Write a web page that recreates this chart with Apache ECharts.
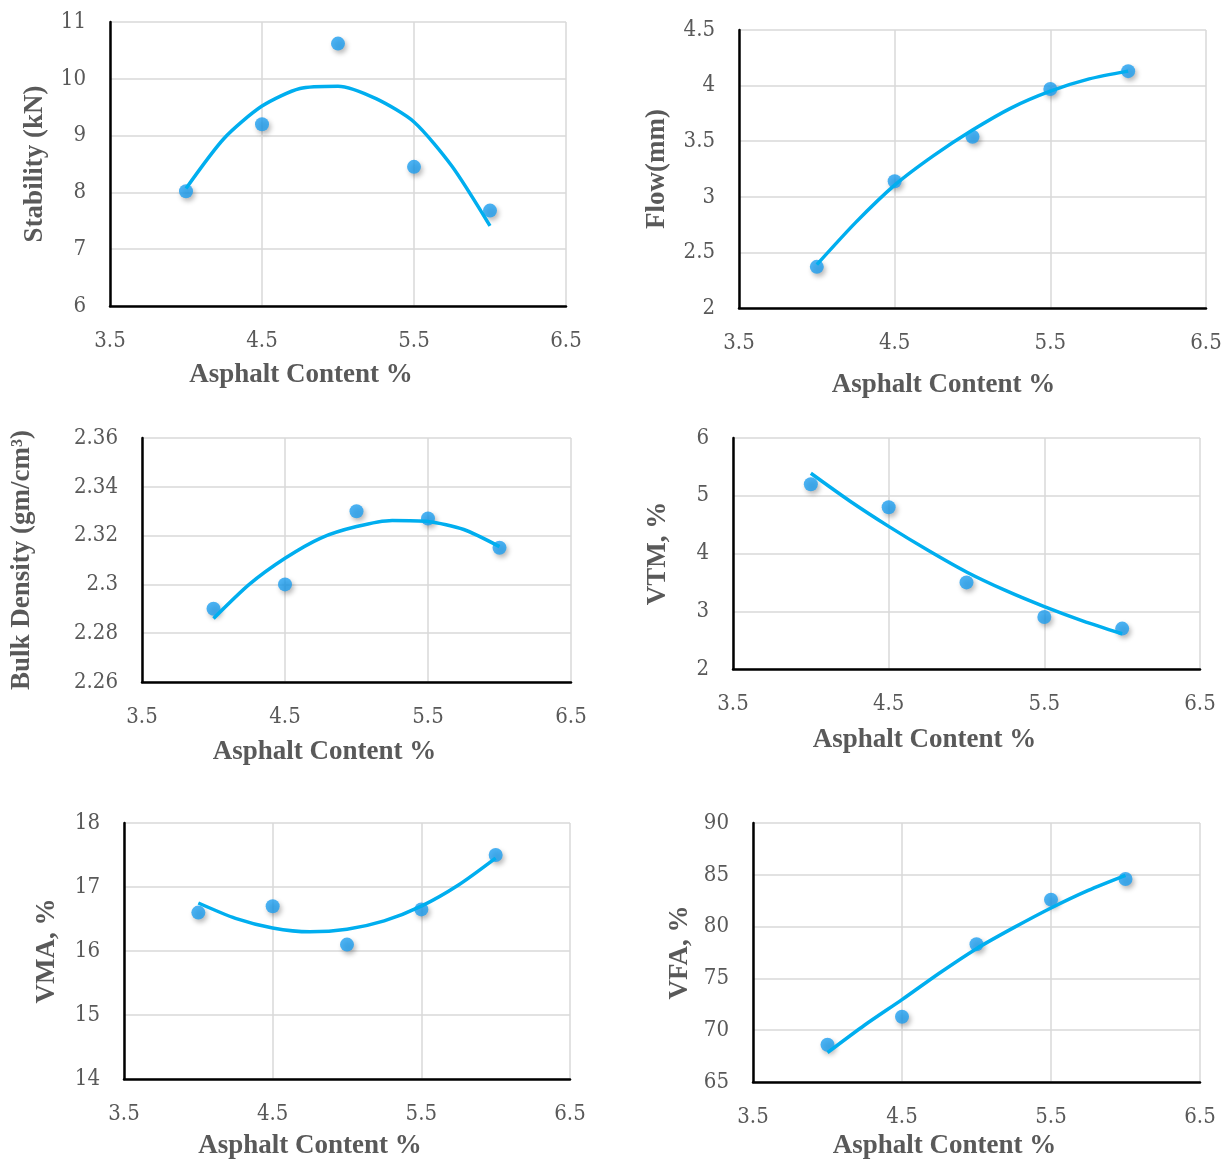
<!DOCTYPE html>
<html>
<head>
<meta charset="utf-8">
<script src="https://cdn.jsdelivr.net/npm/echarts@6/dist/echarts.min.js"></script>
<style>
  html, body { margin: 0; padding: 0; background: #fff; }
  #main { width: 1231px; height: 1163px; }
</style>
</head>
<body>
<div id="main"></div>
<script>
// asphalt content of the specimens
var asphalt = [4, 4.5, 5, 5.5, 6];
var trendX = [4, 4.25, 4.5, 4.75, 5, 5.25, 5.5, 5.75, 6];

// measured values
var stability = [8.02, 9.2, 10.62, 8.45, 7.68];
var flow = [2.37, 3.14, 3.54, 3.97, 4.13];
var density = [2.29, 2.30, 2.33, 2.327, 2.315];
var vtm = [5.2, 4.8, 3.5, 2.9, 2.7];
var vma = [16.6, 16.7, 16.1, 16.65, 17.5];
var vfa = [68.6, 71.3, 78.3, 82.6, 84.6];

// trendline values
var stabilityTrend = [8.07, 8.95, 9.52, 9.83, 9.87, 9.65, 9.24, 8.46, 7.41];
var flowTrend = [2.39, 2.77, 3.105, 3.37, 3.60, 3.80, 3.95, 4.06, 4.13];
var densityTrend = [2.286, 2.300, 2.3107, 2.319, 2.3237, 2.3262, 2.3258, 2.3225, 2.3155];
var vtmTrend = [5.39, 4.91, 4.47, 4.06, 3.68, 3.36, 3.08, 2.83, 2.61];
var vmaTrend = [16.75, 16.51, 16.36, 16.30, 16.34, 16.47, 16.70, 17.03, 17.45];
var vfaTrend = [67.83, 70.5, 72.95, 75.5, 77.87, 79.9, 81.8, 83.5, 84.95];

var xTitle = 'Asphalt Content %';

var textColor = '#595959';
var titleFont = 'Liberation Serif';
var tickFont = '"DejaVu Serif Condensed", "DejaVu Serif", serif';
var gridColor = '#d9d9d9';

var option = { animation: false, grid: [], xAxis: [], yAxis: [], series: [] };

function pairs(xs, ys) {
  return xs.map(function (x, i) { return [x, ys[i]]; });
}

function panel(box, y, yName, yGap, xGap, xShift, values, trend) {
  var i = option.grid.length;
  option.grid.push({ left: box[0], top: box[1], width: box[2], height: box[3] });

  option.xAxis.push({
    gridIndex: i,
    type: 'value',
    min: 3.5, max: 6.5, interval: 1,
    name: xTitle,
    nameLocation: 'middle',
    nameGap: xGap,
    nameTextStyle: {
      fontFamily: titleFont, fontWeight: 'bold', fontSize: 27, color: textColor,
      padding: [0, xShift, 0, 0]
    },
    axisLine: { onZero: false, lineStyle: { color: '#000', width: 2.5 } },
    axisTick: { show: false },
    splitLine: { lineStyle: { color: gridColor, width: 1.5 } },
    axisLabel: { margin: 24, fontFamily: tickFont, fontSize: 22, color: textColor }
  });

  option.yAxis.push({
    gridIndex: i,
    type: 'value',
    min: y[0], max: y[1], interval: y[2],
    name: yName,
    nameLocation: 'middle',
    nameGap: yGap,
    nameTextStyle: { fontFamily: titleFont, fontWeight: 'bold', fontSize: 27, color: textColor },
    axisLine: { show: true, onZero: false, lineStyle: { color: '#000', width: 2.5 } },
    axisTick: { show: false },
    splitLine: { lineStyle: { color: gridColor, width: 1.5 } },
    axisLabel: { margin: 24, fontFamily: tickFont, fontSize: 22, color: textColor }
  });

  option.series.push({
    type: 'scatter',
    xAxisIndex: i, yAxisIndex: i,
    symbolSize: 14,
    itemStyle: {
      color: '#1e9ff0',
      shadowColor: 'rgba(0,0,0,0.35)',
      shadowBlur: 5,
      shadowOffsetX: 2,
      shadowOffsetY: 3
    },
    data: pairs(asphalt, values)
  });

  option.series.push({
    type: 'line',
    xAxisIndex: i, yAxisIndex: i,
    smooth: 0.25,
    symbol: 'none',
    lineStyle: { color: '#00aeef', width: 3.5 },
    data: pairs(trendX, trend),
    z: 3
  });
}

panel([110, 22, 456, 284], [6, 11, 1], 'Stability (kN)', 61, 56, 74, stability, stabilityTrend);
panel([739, 30, 467, 278], [2, 4.5, 0.5], 'Flow(mm)', 68, 64, 58, flow, flowTrend);
panel([142, 438, 429, 244], [2.26, 2.36, 0.02], 'Bulk Density (gm/cm\u00b3)', 106, 57, 64, density, densityTrend);
panel([733, 438, 467, 231], [2, 6, 1], 'VTM, %', 61, 58, 84, vtm, vtmTrend);
panel([124, 823, 446, 256], [14, 18, 1], 'VMA, %', 63, 54, 74, vma, vmaTrend);
panel([753, 823, 447, 259], [65, 90, 5], 'VFA, %', 59, 51, 64, vfa, vfaTrend);

var chart = echarts.init(document.getElementById('main'));
chart.setOption(option);
</script>
</body>
</html>
